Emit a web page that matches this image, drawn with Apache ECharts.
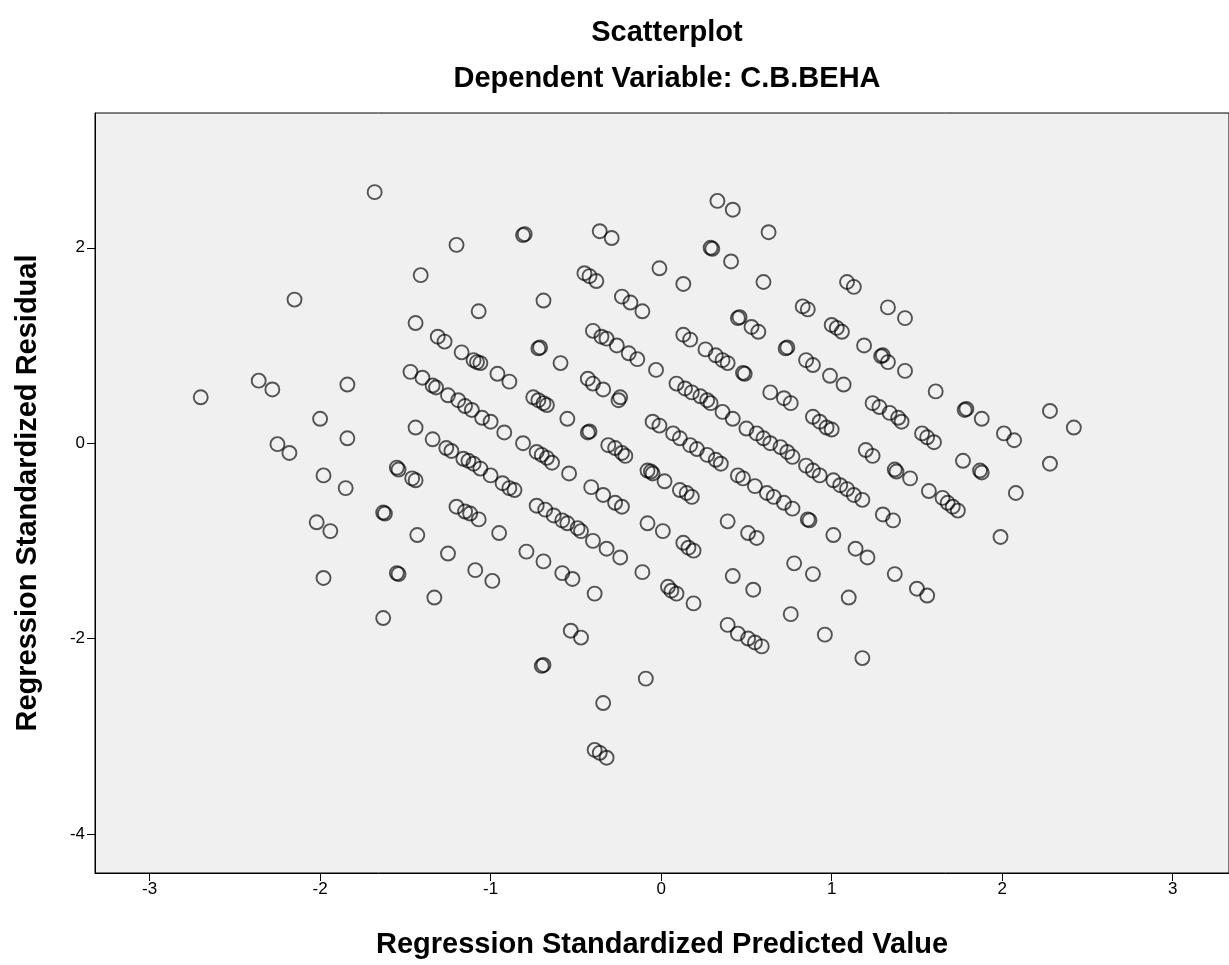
<!DOCTYPE html>
<html>
<head>
  <meta charset="UTF-8">
  <title>Scatterplot</title>
  <script src="https://cdn.jsdelivr.net/npm/echarts@6/dist/echarts.min.js"></script>
  <style>
    html, body { margin: 0; padding: 0; background: #fff; }
    #c1 { width: 1229px; height: 965px; }
  </style>
</head>
<body>
<div id="c1"></div>
<script>
  // predicted value (x) and residual (y)
  var predicted = [
    -1.68, -2.15, -2.70, -2.36, -2.28, -1.84, -2.00, -1.84, -2.25, -2.18,
    -1.98, -1.85, -1.55, -1.54, -1.46, -1.44, -1.63, -1.62, -2.02, -1.94,
    -1.43, -1.98, -1.55, -1.54, -1.63,
    -1.20, -0.81, -0.80, -0.36, -0.29, -1.41, -0.45, -0.42, -0.38, -0.69,
    -0.23, -0.18, -0.11, -1.07, -1.44, -1.31, -1.27, -1.17, -1.10, -1.08,
    -1.06, -0.96, -0.89, -0.72, -0.71, -0.59, -0.40, -0.35, -0.32, -0.26,
    -0.19, -0.14, -0.43, -0.40, -0.34, -0.24,
    -1.47, -1.40, -1.34, -1.32, -1.25, -1.19, -1.15, -1.11, -1.05, -1.00, -0.92, -0.81,
    -0.75, -0.72, -0.69, -0.67, -0.25, -0.55, -0.43, -0.42, -0.31, -0.27, -0.23, -0.21,
    -1.44, -1.34, -1.26, -1.23, -1.16, -1.13, -1.10, -1.06, -1.00, -0.93, -0.89, -0.86,
    -0.73, -0.70, -0.67, -0.64, -0.54, -0.41, -0.34, -0.27, -0.23,
    -1.20, -1.15, -1.12, -1.07, -0.73, -0.68, -0.63, -0.58, -0.55, -0.49, -0.47,
    -0.40, -0.32, -0.24, -0.95, -1.25, -0.79, -0.69, -1.09, -0.99, -0.58, -0.52,
    -1.33, -0.39,
    -0.53, -0.47, -0.69, -0.70, -0.34, -0.39, -0.36, -0.32, -0.09,
    0.33, 0.42, 0.63, 0.29, 0.30, 0.41, -0.01, 0.13, 0.60, 1.09, 1.13, 0.83, 0.86,
    0.45, 0.46, 0.53, 0.57, 1.00, 1.03, 1.06, 0.13, 0.17, 0.26, 0.32, 0.36, 0.39,
    0.48, 0.49, 0.73, 0.74, 0.85, 0.89, 0.99, 1.07, -0.03, 0.09, 0.14, 0.18, 0.23,
    0.27, 0.29,
    0.64, 0.72, 0.76, 0.36, 0.42, 0.50, 0.56, 0.60, 0.64, 0.70, 0.74, 0.77, 0.85,
    0.89, 0.93, 0.89, 0.93, 0.97, 1.00, 1.01, 1.05, 1.09, 1.13, -0.05, -0.01,
    0.07, 0.11, 0.17, 0.21, 0.27, 0.32, 0.35, -0.08, -0.06, -0.05, 0.02, 0.11,
    0.15, 0.18, 0.45, 0.48, 0.55, 0.62, 0.66, 0.72, 0.77, 0.86, 0.87, -0.08, 0.01,
    0.13, 0.16, 0.19, 0.39, 0.51, 0.56, 1.01, -0.11, 0.04, 0.06, 0.09, 0.19, 0.42,
    0.54, 0.78, 0.89, 1.10, 0.76,
    0.39, 0.45, 0.51, 0.55, 0.59, 0.96, 1.18,
    1.33, 1.43, 1.19, 1.29, 1.30, 1.33, 1.43, 1.61,
    1.24, 1.28, 1.34, 1.39, 1.41, 1.78, 1.79, 1.88, 2.28, 2.42, 1.53, 1.56, 1.60,
    2.01, 2.07, 1.20, 1.24, 1.37, 1.38, 1.46, 1.77, 1.87, 1.88, 2.28, 1.57, 1.65,
    1.68, 1.71, 1.74, 2.08, 1.18, 1.30, 1.36, 1.99, 1.14, 1.21, 1.37, 1.50, 1.56
  ];
  var residual = [
    2.57, 1.47, 0.47, 0.64, 0.55, 0.60, 0.25, 0.05, -0.01, -0.10,
    -0.33, -0.46, -0.25, -0.27, -0.36, -0.38, -0.71, -0.72, -0.81, -0.90,
    -0.94, -1.38, -1.33, -1.34, -1.79,
    2.03, 2.13, 2.14, 2.17, 2.10, 1.72, 1.74, 1.71, 1.66, 1.46,
    1.50, 1.44, 1.35, 1.35, 1.23, 1.09, 1.04, 0.93, 0.85, 0.83,
    0.82, 0.71, 0.63, 0.97, 0.98, 0.82, 1.15, 1.09, 1.07, 1.00,
    0.92, 0.86, 0.66, 0.61, 0.55, 0.47,
    0.73, 0.67, 0.59, 0.57, 0.49, 0.44, 0.38, 0.34, 0.26, 0.22, 0.11, 0.00,
    0.47, 0.44, 0.41, 0.39, 0.44, 0.25, 0.11, 0.12, -0.02, -0.05, -0.10, -0.13,
    0.16, 0.04, -0.05, -0.08, -0.16, -0.18, -0.21, -0.26, -0.33, -0.41, -0.46, -0.48,
    -0.09, -0.12, -0.15, -0.20, -0.31, -0.45, -0.53, -0.61, -0.65,
    -0.65, -0.70, -0.72, -0.78, -0.64, -0.68, -0.74, -0.79, -0.82, -0.87, -0.90,
    -1.00, -1.08, -1.17, -0.92, -1.13, -1.11, -1.21, -1.30, -1.41, -1.33, -1.39,
    -1.58, -1.54,
    -1.92, -1.99, -2.27, -2.28, -2.66, -3.14, -3.17, -3.22, -2.41,
    2.48, 2.39, 2.16, 2.00, 1.99, 1.86, 1.79, 1.63, 1.65, 1.65, 1.60, 1.40, 1.37,
    1.28, 1.29, 1.19, 1.14, 1.21, 1.18, 1.14, 1.11, 1.06, 0.96, 0.90, 0.85, 0.82,
    0.72, 0.71, 0.97, 0.98, 0.85, 0.80, 0.69, 0.60, 0.75, 0.61, 0.56, 0.52, 0.48,
    0.44, 0.41,
    0.52, 0.46, 0.41, 0.32, 0.25, 0.15, 0.10, 0.05, 0.00, -0.04, -0.09, -0.14, -0.23,
    -0.28, -0.33, 0.27, 0.22, 0.16, 0.14, -0.38, -0.43, -0.47, -0.53, 0.22, 0.18,
    0.10, 0.05, -0.02, -0.06, -0.12, -0.17, -0.21, -0.28, -0.29, -0.31, -0.39, -0.48,
    -0.51, -0.55, -0.33, -0.36, -0.44, -0.51, -0.55, -0.61, -0.67, -0.78, -0.79, -0.82, -0.90,
    -1.02, -1.07, -1.10, -0.80, -0.92, -0.97, -0.94, -1.32, -1.47, -1.51, -1.54, -1.64, -1.36,
    -1.50, -1.23, -1.34, -1.58, -1.75,
    -1.86, -1.95, -2.00, -2.04, -2.08, -1.96, -2.20,
    1.39, 1.28, 1.00, 0.89, 0.90, 0.83, 0.74, 0.53,
    0.41, 0.37, 0.31, 0.26, 0.22, 0.34, 0.35, 0.25, 0.33, 0.16, 0.10, 0.06, 0.01,
    0.10, 0.03, -0.07, -0.13, -0.27, -0.29, -0.36, -0.18, -0.28, -0.30, -0.21, -0.49, -0.56,
    -0.61, -0.65, -0.69, -0.51, -0.58, -0.73, -0.79, -0.96, -1.08, -1.17, -1.34, -1.49, -1.56
  ];

  var xTicks = [-3, -2, -1, 0, 1, 2, 3];
  var yTicks = [-4, -2, 0, 2];

  var points = predicted.map(function (x, i) { return [x, residual[i]]; });

  var chartDom = document.getElementById('c1');
  var myChart = echarts.init(chartDom);
  var font = '"Liberation Sans", Arial, sans-serif';
  var option;

  option = {
    backgroundColor: '#ffffff',
    animation: false,
    title: [
      {
        text: 'Scatterplot',
        left: 662, top: 13, textAlign: 'center',
        textStyle: { fontFamily: font, fontSize: 29, fontWeight: 'bold', color: '#000' }
      },
      {
        text: 'Dependent Variable: C.B.BEHA',
        left: 662, top: 59, textAlign: 'center',
        textStyle: { fontFamily: font, fontSize: 29, fontWeight: 'bold', color: '#000' }
      }
    ],
    grid: {
      left: 95, top: 113, right: 0, bottom: 92,
      outerBoundsMode: 'none',
      show: true,
      backgroundColor: '#f0f0f0',
      borderColor: '#000',
      borderWidth: 1
    },
    xAxis: {
      type: 'value',
      min: -3.32, max: 3.33,
      name: 'Regression Standardized Predicted Value',
      nameLocation: 'middle',
      nameGap: 57,
      nameTextStyle: { fontFamily: font, fontSize: 29, fontWeight: 'bold', color: '#000' },
      axisLine: { show: true, onZero: false, lineStyle: { color: '#000', width: 1 } },
      axisTick: { show: true, length: 8, customValues: xTicks, lineStyle: { color: '#000' } },
      axisLabel: { customValues: xTicks, fontFamily: font, fontSize: 17, color: '#000', margin: 8 },
      splitLine: { show: false }
    },
    yAxis: {
      type: 'value',
      min: -4.4, max: 3.38,
      name: 'Regression Standardized Residual',
      nameLocation: 'middle',
      nameGap: 53,
      nameTextStyle: { fontFamily: font, fontSize: 29, fontWeight: 'bold', color: '#000' },
      axisLine: { show: true, onZero: false, lineStyle: { color: '#000', width: 1 } },
      axisTick: { show: true, length: 8, customValues: yTicks, lineStyle: { color: '#000' } },
      axisLabel: { customValues: yTicks, fontFamily: font, fontSize: 17, color: '#000', margin: 10 },
      splitLine: { show: false }
    },
    series: [
      {
        type: 'scatter',
        data: points,
        symbol: 'circle',
        symbolSize: 14,
        itemStyle: {
          color: 'rgba(0,0,0,0)',
          borderColor: 'rgba(0,0,0,0.82)',
          borderWidth: 1.9
        }
      }
    ]
  };

  option && myChart.setOption(option);
</script>
</body>
</html>
